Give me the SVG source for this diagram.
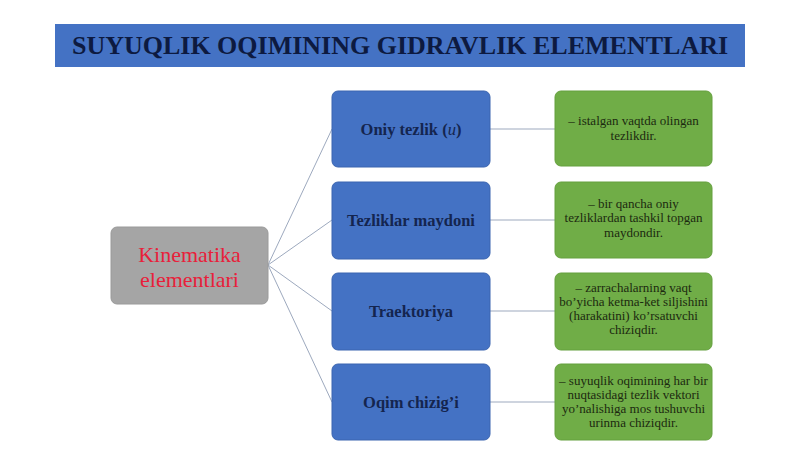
<svg xmlns="http://www.w3.org/2000/svg" width="800" height="449" viewBox="0 0 800 449">
<style>
.blue{fill:#4472C4;stroke:#3B65B0;stroke-width:1}
.green{fill:#70AD47;stroke:#65A03E;stroke-width:1}
.gray{fill:#A5A5A5;stroke:#9A9A9A;stroke-width:1}
.bt{font-family:"Liberation Serif",serif;font-weight:bold;font-size:16.5px;fill:#14254F;text-anchor:middle}
.gt{font-family:"Liberation Serif",serif;font-size:13px;fill:#1C2A10;text-anchor:middle}
.rt{font-family:"Liberation Serif",serif;font-size:22px;fill:#E8203A;text-anchor:middle}
.conn line{stroke:#9DA9BE;stroke-width:1}
</style>
<rect width="800" height="449" fill="#ffffff"/>
<g id="title">
<rect x="55" y="24" width="690" height="43" fill="#4472C4"/>
<text x="400" y="54" font-family="Liberation Serif,serif" font-weight="bold" font-size="26" fill="#0D1A40" text-anchor="middle">SUYUQLIK OQIMINING GIDRAVLIK ELEMENTLARI</text>
</g>
<g class="conn" id="connectors">
<line x1="268" y1="265" x2="332" y2="129"/>
<line x1="268" y1="265" x2="332" y2="220"/>
<line x1="268" y1="265" x2="332" y2="311"/>
<line x1="268" y1="265" x2="332" y2="402"/>
<line x1="490" y1="129" x2="555" y2="129"/>
<line x1="490" y1="220" x2="555" y2="220"/>
<line x1="490" y1="311" x2="555" y2="311"/>
<line x1="490" y1="402" x2="555" y2="402"/>
</g>
<g id="root">
<rect class="gray" x="111" y="227" width="157" height="77" rx="6"/>
<text class="rt" x="189.5" y="262">Kinematika</text>
<text class="rt" x="189.5" y="287">elementlari</text>
</g>
<g id="n1">
<rect class="blue" x="332" y="91" width="158" height="76" rx="6"/>
<text class="bt" x="411" y="135">Oniy tezlik (<tspan font-style="italic" font-weight="normal">u</tspan>)</text>
</g>
<g id="n2">
<rect class="blue" x="332" y="182" width="158" height="77" rx="6"/>
<text class="bt" x="411" y="226">Tezliklar maydoni</text>
</g>
<g id="n3">
<rect class="blue" x="332" y="273" width="158" height="77" rx="6"/>
<text class="bt" x="411" y="317">Traektoriya</text>
</g>
<g id="n4">
<rect class="blue" x="332" y="364" width="158" height="76" rx="6"/>
<text class="bt" x="411" y="408">Oqim chizig’i</text>
</g>
<g id="d1">
<rect class="green" x="555" y="91" width="157" height="75" rx="6"/>
<text class="gt" x="633.5" y="125">– istalgan vaqtda olingan</text>
<text class="gt" x="633.5" y="140">tezlikdir.</text>
</g>
<g id="d2">
<rect class="green" x="555" y="182" width="157" height="76" rx="6"/>
<text class="gt" x="633.5" y="208">– bir qancha oniy</text>
<text class="gt" x="633.5" y="222">tezliklardan tashkil topgan</text>
<text class="gt" x="633.5" y="237">maydondir.</text>
</g>
<g id="d3">
<rect class="green" x="555" y="273" width="157" height="77" rx="6"/>
<text class="gt" x="633.5" y="292">– zarrachalarning vaqt</text>
<text class="gt" x="633.5" y="306">bo’yicha ketma-ket siljishini</text>
<text class="gt" x="633.5" y="320">(harakatini) ko’rsatuvchi</text>
<text class="gt" x="633.5" y="334">chiziqdir.</text>
</g>
<g id="d4">
<rect class="green" x="555" y="364" width="157" height="76" rx="6"/>
<text class="gt" x="633.5" y="385">– suyuqlik oqimining har bir</text>
<text class="gt" x="633.5" y="399">nuqtasidagi tezlik vektori</text>
<text class="gt" x="633.5" y="413">yo’nalishiga mos tushuvchi</text>
<text class="gt" x="633.5" y="427">urinma chiziqdir.</text>
</g>
</svg>
